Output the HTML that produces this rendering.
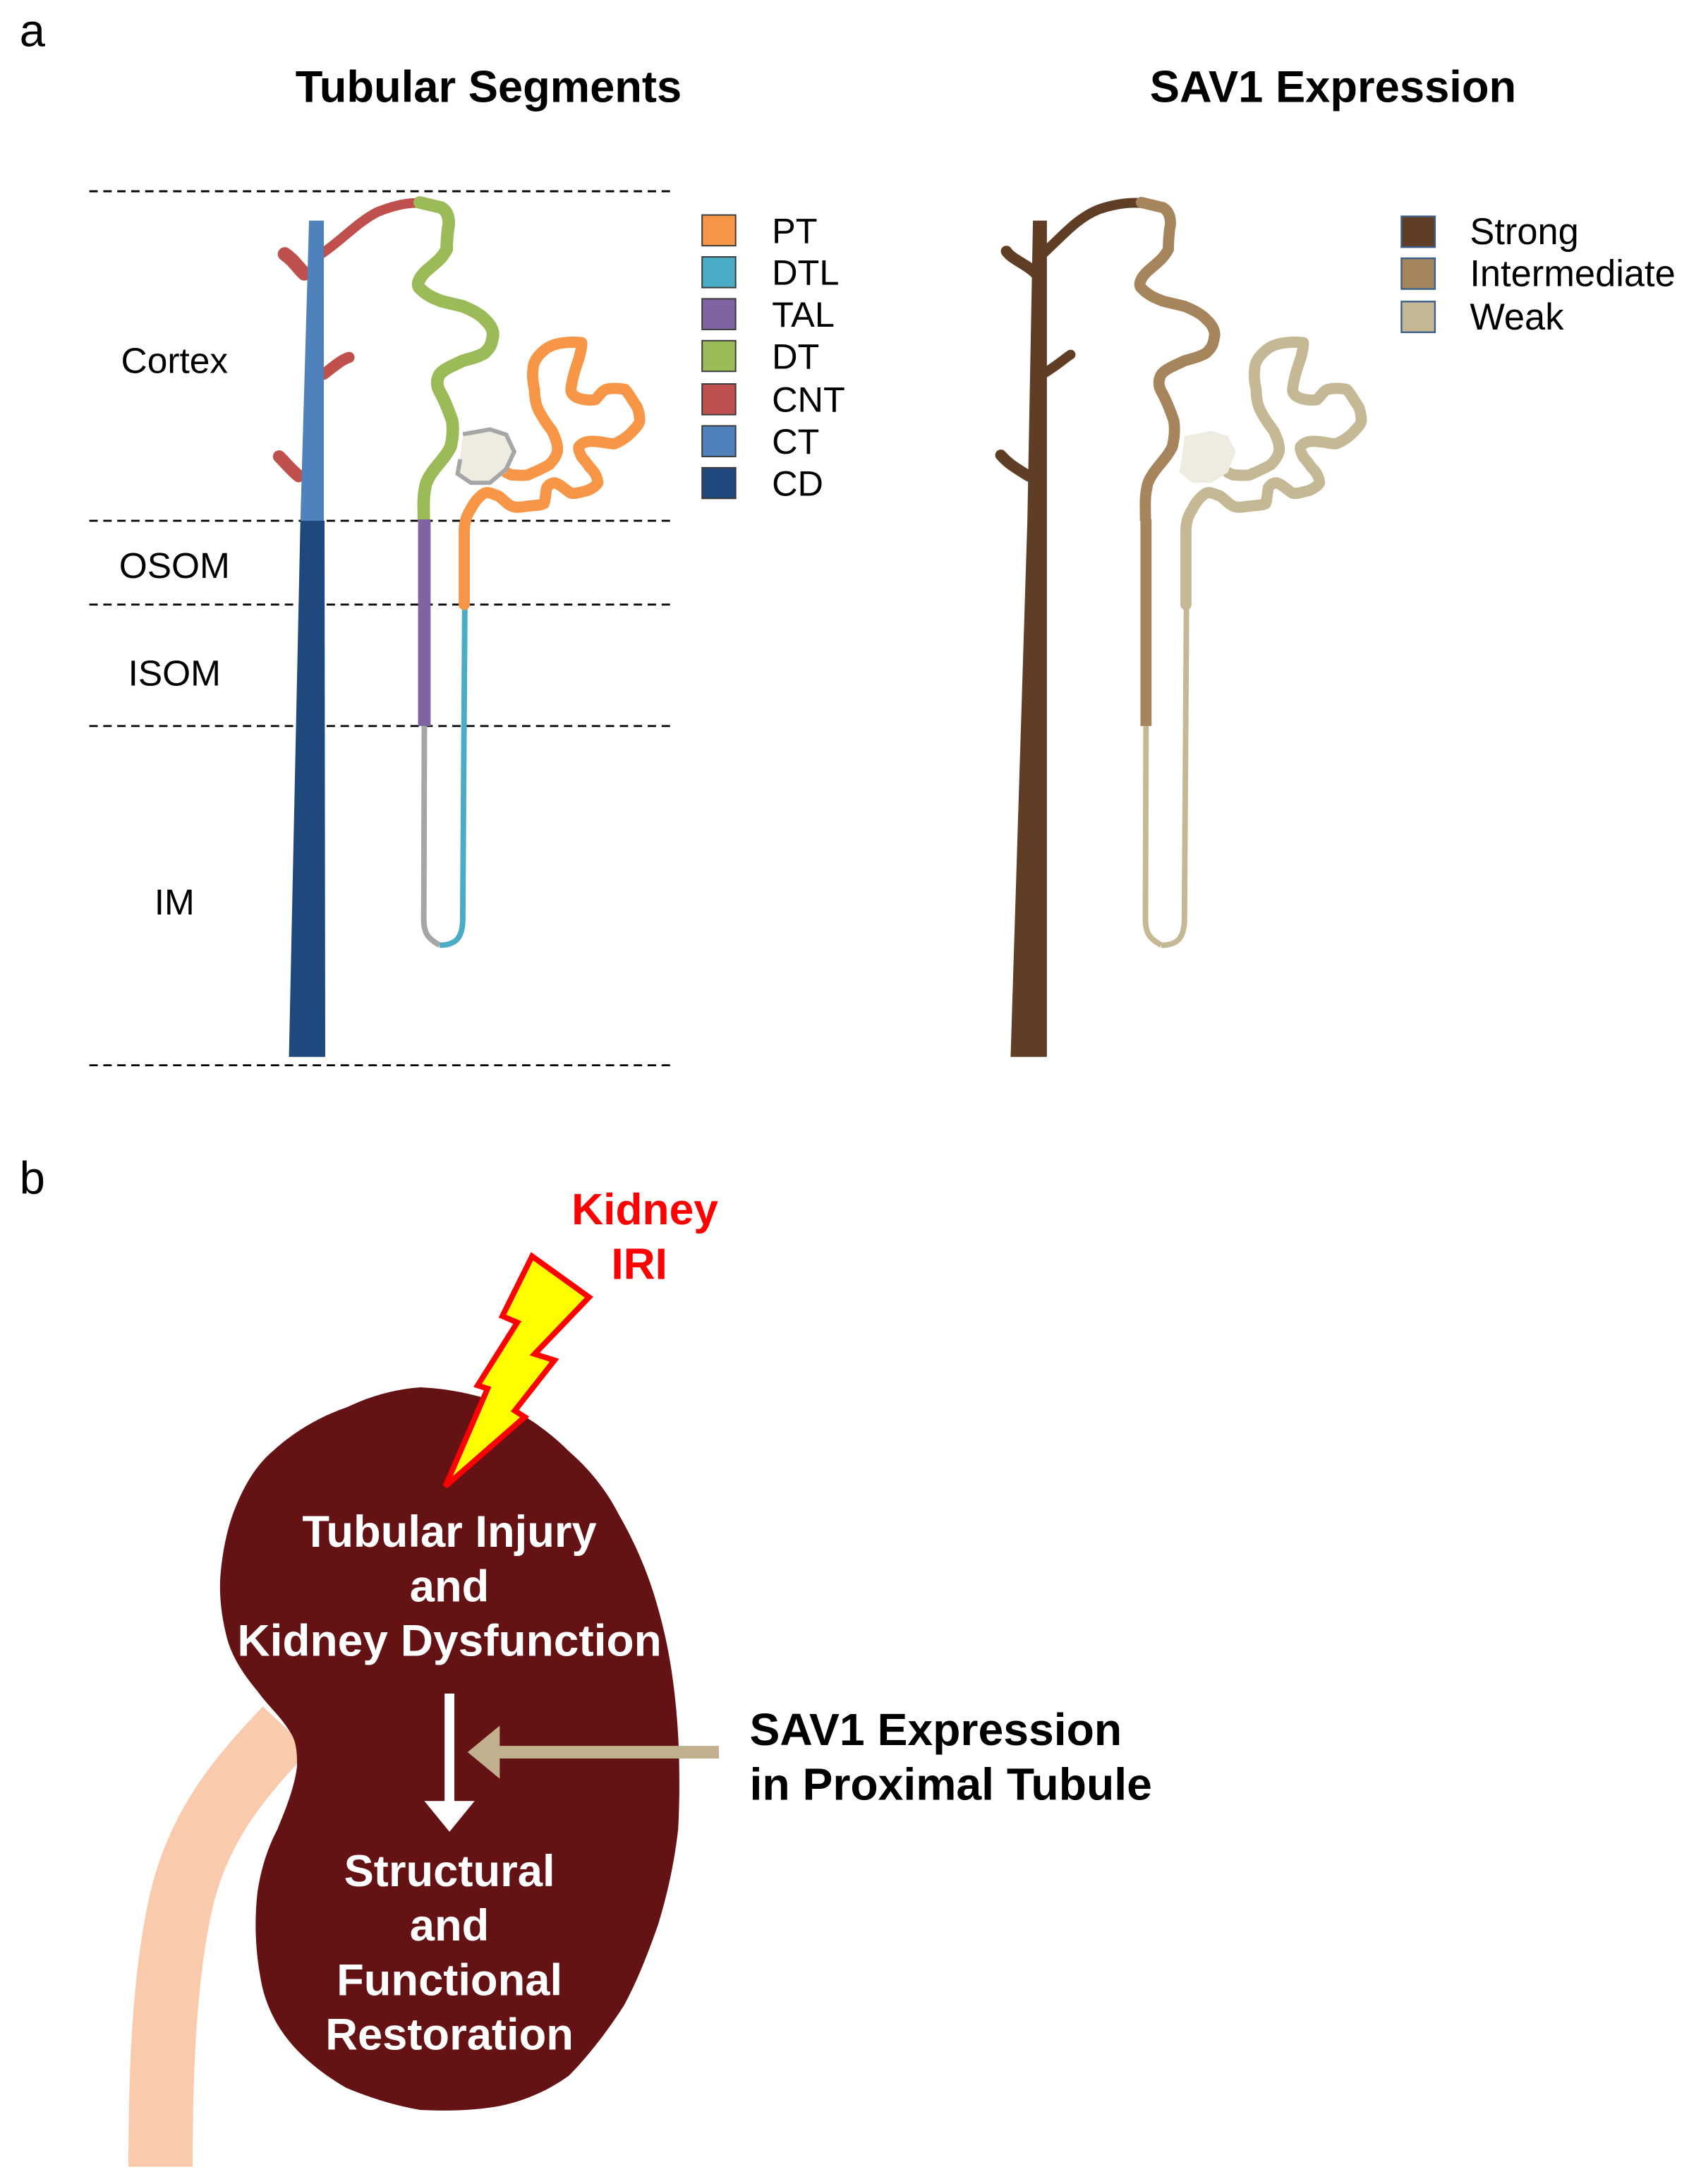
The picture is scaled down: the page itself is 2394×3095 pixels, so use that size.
<!DOCTYPE html>
<html><head><meta charset="utf-8"><style>
html,body{margin:0;padding:0;background:#fff;}
svg{display:block;}
text{font-family:"Liberation Sans",Arial,sans-serif;}
</style></head><body>
<svg width="2394" height="3095" viewBox="0 0 1210 1564.3" preserveAspectRatio="none" xmlns="http://www.w3.org/2000/svg">
<defs>
<path id="dt" d="M300.7,145 L316.2,148.7 C322,152 322,160 321,163.6 C320,172 320,176 320,178.5 C316,186 312,188 308.4,191.5 C300,198 298,204 300.7,206.4 C306,212 312,214 316.2,215.7 L331.6,219.4 C338,222 344,225 347.1,228.7 C352,233 354,238 352.9,241.7 C352,248 350,250 347.1,252.8 C342,256 336,257 331.6,258.4 C324,262 316,265 314.2,269.6 C312,275 314,279 316.2,282.6 C320,290 322,296 323.9,301.2 C325,308 324,315 322.9,319.8 C320,326 316,330 312.3,334.7 C308,340 305,345 304.6,349.5 C303,356 303.6,365 303.6,372"/>
<path id="pt" d="M332.6,433 L332.6,379.3 C333,372 335,368 337.4,364.4 C340,359 344,355 347.1,353.2 C350,352 353,354 356.8,355.1 C360,357 363,361 366.5,362.5 C370,364 374,363 378.1,362.5 C383,362 387,362 389.7,360.7 C391,357 391,352 391.6,349.5 C393,347 395,346 397.4,345.8 C402,347 405,351 409,353.2 C413,354 417,352 420.6,351.4 C424,350 427,348 428.3,345.8 C428,341 425,337 422.5,334.7 C420,331 418,329 416.7,327.2 C415,324 414,321 414.8,319.8 C417,317 420,316 424.5,316.1 C430,316 436,318 440,317.9 C445,316 449,313 451.6,310.5 C455,307 458,304 458.3,301.2 C458,296 457,292 455.4,290 C452,285 450,281 447.7,278.9 C443,278 438,278 434.2,278.9 C431,280 429,284 426.4,286.3 C421,287 416,286 412.9,284.5 C410,283 409,281 409,278.9 C410,270 413,262 414.8,256.6 C416,252 417,248 416.7,245.4 C412,245 408,245 405.1,245.4 C398,246 393,248 389.7,251 C385,255 382,259 381.9,264 C381,270 382,275 382.9,278.9 C383,285 384,290 385.8,293.7 C389,300 392,304 395.5,308.6 C398,314 400,319 399.3,323.5 C398,328 396,330 393.5,332.8 C388,336 383,338 378.1,340.2 C373,341 369,340 366.5,340.2 L362.6,338.4"/>
<polygon id="glom" points="331.6,312.3 351,308.6 362.6,312.3 368.4,323.5 362.6,338.4 351,345.8 337.4,345.8 327.8,338.4 329.7,327.2"/>
</defs>

<text x="14" y="33" font-size="33">a</text>
<text x="14" y="855" font-size="33">b</text>
<text x="350" y="73" font-size="32" font-weight="bold" text-anchor="middle">Tubular Segments</text>
<text x="955" y="73" font-size="32" font-weight="bold" text-anchor="middle">SAV1 Expression</text>

<g stroke="#000" stroke-width="1.4" stroke-dasharray="6,4">
<line x1="64" y1="137" x2="484" y2="137"/>
<line x1="64" y1="373" x2="484" y2="373"/>
<line x1="64" y1="433" x2="484" y2="433"/>
<line x1="64" y1="520" x2="484" y2="520"/>
<line x1="64" y1="763" x2="484" y2="763"/>
</g>
<g font-size="26" text-anchor="middle">
<text x="125" y="267">Cortex</text>
<text x="125" y="414">OSOM</text>
<text x="125" y="491">ISOM</text>
<text x="125" y="655">IM</text>
</g>

<!-- LEFT nephron -->
<g>
<g stroke="#c0504d" fill="none" stroke-linecap="round">
<path d="M230,182 C245,172 255,160 270,152 C285,146 295,145 301,145.5" stroke-width="7"/>
<path d="M218,196 C212,190 210,186 204,182" stroke-width="10"/>
<path d="M232,268 C240,262 244,258 250,256" stroke-width="8"/>
<path d="M214,341 C208,336 205,332 200,327" stroke-width="9"/>
</g>
<polygon points="221.4,158 232,158 232,373 215.2,373" fill="#4f81bd"/>
<polygon points="215.2,373 232.5,373 233,757 207,757" fill="#1f497d"/>
<use href="#dt" fill="none" stroke="#9bbb59" stroke-width="9" stroke-linecap="round"/>
<line x1="304" y1="372" x2="304" y2="520" stroke="#8064a2" stroke-width="9"/>
<path d="M304,520 L303.6,660 C304,668 306,672 315,677" fill="none" stroke="#a6a6a6" stroke-width="4"/>
<path d="M333,433 L331.5,660 C331,670 328,677 315,677" fill="none" stroke="#4bacc6" stroke-width="4"/>
<use href="#pt" fill="none" stroke="#f79646" stroke-width="8" stroke-linecap="round" stroke-linejoin="round"/>
<use href="#glom" fill="#eeebe0" stroke="none"/>
<path d="M331.6,311 L351,307.6 L362.6,311.3 L368.4,323.5 L362.6,336 L351,345.8 L337.4,345.8 L327.8,339.4 L329.7,329" fill="none" stroke="#a6a6a6" stroke-width="3"/>
</g>

<!-- left legend -->
<g stroke="#3a3a3a" stroke-width="1">
<rect x="503" y="154" width="24" height="22" fill="#f79646"/>
<rect x="503" y="184" width="24" height="22" fill="#4bacc6"/>
<rect x="503" y="214" width="24" height="22" fill="#8064a2"/>
<rect x="503" y="244" width="24" height="22" fill="#9bbb59"/>
<rect x="503" y="275" width="24" height="22" fill="#c0504d"/>
<rect x="503" y="305" width="24" height="22" fill="#4f81bd"/>
<rect x="503" y="335" width="24" height="22" fill="#1f497d"/>
</g>
<g font-size="25.5">
<text x="553" y="174">PT</text>
<text x="553" y="204">DTL</text>
<text x="553" y="234">TAL</text>
<text x="553" y="264">DT</text>
<text x="553" y="295">CNT</text>
<text x="553" y="325">CT</text>
<text x="553" y="355">CD</text>
</g>

<!-- RIGHT nephron -->
<g transform="translate(517,0)">
<g stroke="#5f3e25" fill="none" stroke-linecap="round">
<path d="M230,182 C245,168 255,156 270,150 C285,145 295,145 301,145.5" stroke-width="7"/>
<path d="M225,196 C220,190 208,186 204,180" stroke-width="8"/>
<path d="M230,268 C240,262 244,258 250,254" stroke-width="7"/>
<path d="M220,341 C212,336 205,332 200,326" stroke-width="8"/>
</g>
<polygon points="223,158 233,158 233,373 219,373" fill="#5f3e25"/>
<polygon points="219,373 233,373 233,757 207,757" fill="#5f3e25"/>
<use href="#dt" fill="none" stroke="#a6855d" stroke-width="8" stroke-linecap="round"/>
<line x1="304" y1="372" x2="304" y2="520" stroke="#a6855d" stroke-width="8"/>
<path d="M304,520 L303.6,660 C304,668 306,672 315,677" fill="none" stroke="#c4b895" stroke-width="4"/>
<path d="M333,433 L331.5,660 C331,670 328,677 315,677" fill="none" stroke="#c4b895" stroke-width="4"/>
<use href="#pt" fill="none" stroke="#c4b895" stroke-width="8" stroke-linecap="round" stroke-linejoin="round"/>
<use href="#glom" fill="#eeebe0" stroke="none"/>
</g>

<!-- right legend -->
<g stroke="#3b5f8a" stroke-width="1.2">
<rect x="1004" y="155" width="24" height="22" fill="#5f3e25"/>
<rect x="1004" y="185" width="24" height="22" fill="#a6855d"/>
<rect x="1004" y="216" width="24" height="22" fill="#c4b895"/>
</g>
<g font-size="26.5">
<text x="1053" y="175">Strong</text>
<text x="1053" y="205">Intermediate</text>
<text x="1053" y="236">Weak</text>
</g>

<!-- PANEL B -->
<path d="M205,1238 C170,1275 140,1310 128,1370 C118,1420 115,1480 115,1552" fill="none" stroke="#f9cbac" stroke-width="46"/>
<path d="M301.4,993.7 C325,995 340,999 354.6,1003.6 C375,1012 393,1025 407.8,1039.7 C422,1052 435,1068 443.3,1084.8 C455,1105 465,1128 471.6,1152.5 C480,1182 484,1212 485.8,1242.8 C487,1265 487,1290 485.8,1310.5 C483,1335 478,1357 471.6,1378.1 C464,1400 456,1420 446.8,1436.8 C435,1455 422,1472 407.8,1486.5 C392,1498 373,1506 354.6,1509 C335,1512 318,1512 301.4,1511.3 C282,1508 264,1502 248.2,1495.5 C235,1488 222,1478 212.8,1468.4 C200,1455 192,1440 187.9,1423.3 C183,1400 182,1378 184.4,1355.6 C187,1338 192,1323 198.6,1310.5 C205,1295 211,1280 212.8,1265.3 C213,1255 212,1248 209.2,1242.8 C202,1230 192,1222 184.4,1211.2 C175,1200 167,1188 163.1,1175.1 C159,1160 157,1145 157.8,1130 C159,1114 162,1098 166.7,1084.8 C174,1065 183,1050 195,1039.7 C210,1026 228,1015 248.2,1008.1 C265,1000 283,995 301.4,993.7 Z" fill="#651214"/>
<polygon points="381.2,899.8 422,929.1 383,969.8 397.2,974.3 368.8,1010.4 375.9,1014.9 319.1,1064.5 349.3,994.6 342.2,992.3 370.6,947.2 359.9,942.7" fill="#ffff00" stroke="#ff0000" stroke-width="4" stroke-linejoin="miter"/>
<g font-size="32" font-weight="bold" fill="#fff" text-anchor="middle">
<text x="322" y="1108">Tubular Injury</text>
<text x="322" y="1147">and</text>
<text x="322" y="1186" textLength="304" lengthAdjust="spacingAndGlyphs">Kidney Dysfunction</text>
<text x="322" y="1351">Structural</text>
<text x="322" y="1390">and</text>
<text x="322" y="1429">Functional</text>
<text x="322" y="1468">Restoration</text>
</g>
<line x1="322" y1="1213" x2="322" y2="1292" stroke="#fff" stroke-width="7"/>
<polygon points="304,1290 340,1290 322,1312" fill="#fff"/>
<line x1="355" y1="1255" x2="515" y2="1255" stroke="#c0b08e" stroke-width="9"/>
<polygon points="335,1255 358,1236 358,1274" fill="#c0b08e"/>
<g font-size="32.5" font-weight="bold">
<text x="537" y="1250">SAV1 Expression</text>
<text x="537" y="1289">in Proximal Tubule</text>
</g>
<g font-size="31.5" font-weight="bold" fill="#ff0000" text-anchor="middle">
<text x="462" y="877">Kidney</text>
<text x="458" y="916">IRI</text>
</g>
</svg>
</body></html>
